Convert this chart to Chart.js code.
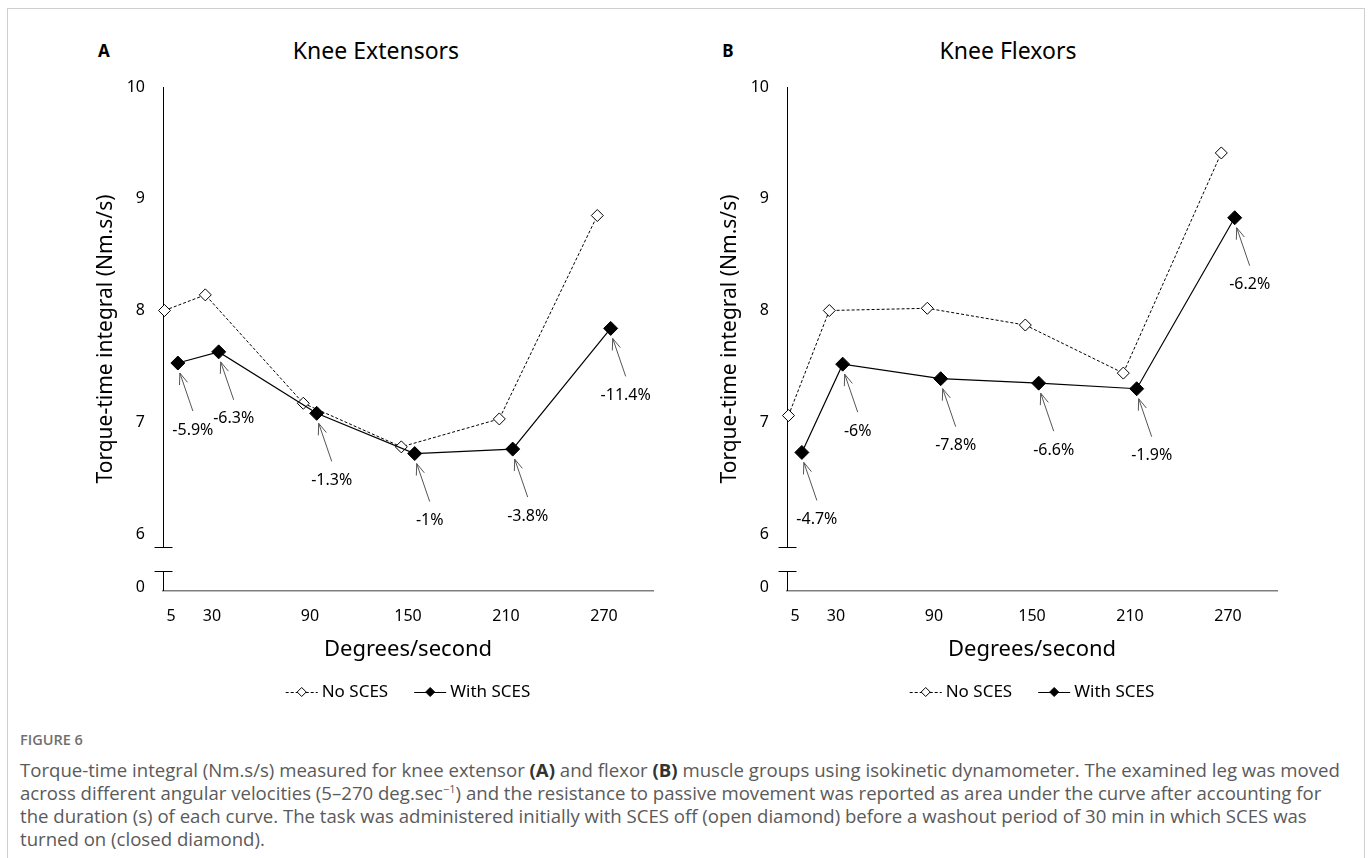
<!DOCTYPE html>
<html>
<head>
<meta charset="utf-8">
<script src="https://cdn.jsdelivr.net/npm/chart.js@4.4.1/dist/chart.umd.min.js"></script>
<style>
  html, body { margin: 0; padding: 0; background: #fff; }
  body { width: 1372px; height: 858px; position: relative; overflow: hidden; font-family: 'Noto Sans', 'Open Sans', sans-serif; }
  .frame { position: absolute; left: 7px; top: 8px; width: 1356px; height: 900px; border: 1px solid #cfcfcf; }
  .panel { position: absolute; top: 0; width: 680px; height: 720px; }
  #panelA { left: 0; }
  #panelB { left: 624px; }
  .letter { position: absolute; top: 50px; font-size: 17px; font-weight: bold; color: #000; transform: translate(-50%, -50%); }
  .ptitle { position: absolute; top: 50px; font-size: 23px; color: #000; transform: translate(-50%, -50%); white-space: nowrap; }
  .figlabel { position: absolute; left: 20px; top: 730px; font-family: 'Open Sans', sans-serif; font-size: 14.5px; font-weight: 600; color: #707070; }
  .caption { position: absolute; left: 20px; top: 758px; font-family: 'Open Sans', sans-serif; font-size: 18.6px; line-height: 23px; color: #5a5a5a; white-space: nowrap; }
  .caption b { color: #333; }
  .caption sup { font-size: 11px; line-height: 0; }
</style>
</head>
<body>
<div class="frame"></div>

<div class="letter" style="left:104px">A</div>
<div class="ptitle" style="left:376px">Knee Extensors</div>
<div class="letter" style="left:728px">B</div>
<div class="ptitle" style="left:1008px">Knee Flexors</div>

<div class="panel" id="panelA"><canvas id="chartA" width="680" height="720"></canvas></div>
<div class="panel" id="panelB"><canvas id="chartB" width="680" height="720"></canvas></div>

<div class="figlabel">FIGURE 6</div>
<div class="caption">
Torque-time integral (Nm.s/s) measured for knee extensor <b>(A)</b> and flexor <b>(B)</b> muscle groups using isokinetic dynamometer. The examined leg was moved<br>
across different angular velocities (5–270 deg.sec<sup>−1</sup>) and the resistance to passive movement was reported as area under the curve after accounting for<br>
the duration (s) of each curve. The task was administered initially with SCES off (open diamond) before a washout period of 30 min in which SCES was<br>
turned on (closed diamond).
</div>

<script>
// Angular velocities tested (deg/s) and their axis labels
const degrees = [5, 30, 90, 150, 210, 270];
const xTickLabels = ['5', '30', '90', '150', '210', '270'];

// Knee extensors: torque-time integral (Nm.s/s)
const extNoSces = [8.00, 8.14, 7.17, 6.78, 7.03, 8.85];
const extWithSces = [7.53, 7.63, 7.08, 6.72, 6.76, 7.84];
const extChange = ['-5.9%', '-6.3%', '-1.3%', '-1%', '-3.8%', '-11.4%'];

// Knee flexors: torque-time integral (Nm.s/s)
const flxNoSces = [7.06, 8.00, 8.02, 7.87, 7.44, 9.41];
const flxWithSces = [6.73, 7.52, 7.39, 7.35, 7.30, 8.83];
const flxChange = ['-4.7%', '-6%', '-7.8%', '-6.6%', '-1.9%', '-6.2%'];

// Axis ticks: upper segment of the broken y axis, and its zero stub
const yTicksUpper = [6, 7, 8, 9, 10];
const yTicksLower = [0];

const seriesNames = ['No SCES', 'With SCES'];
const xTitle = 'Degrees/second';
const yTitle = 'Torque-time integral (Nm.s/s)';

// the two conditions are drawn side by side around each velocity
const DODGE = 4.1;
const FONT = "'Noto Sans', 'Open Sans', sans-serif";

function toPoints(values, shift) {
  return degrees.map((d, i) => ({ x: d + shift, y: values[i] }));
}

// Broken y axis: closing tick on the upper segment, short stub down to zero
const brokenAxis = {
  id: 'brokenAxis',
  afterDraw(chart) {
    const { ctx, chartArea } = chart;
    const up = chart.scales.y;
    const lo = chart.scales.yLow;
    const x = Math.round(chartArea.left) + 0.5;
    const half = 9;
    const yBreak = Math.round(up.bottom) + 0.5;
    const yResume = Math.round(lo.bottom - 20) + 0.5;
    ctx.save();
    ctx.strokeStyle = '#000';
    ctx.lineWidth = 1;
    ctx.beginPath();
    ctx.moveTo(x - half, yBreak); ctx.lineTo(x + half, yBreak);
    ctx.moveTo(x - half, yResume); ctx.lineTo(x + half, yResume);
    ctx.moveTo(x, yResume); ctx.lineTo(x, lo.bottom);
    ctx.stroke();
    ctx.restore();
  }
};

// Y axis title centred on the whole (broken) axis
const axisTitle = {
  id: 'axisTitle',
  afterDraw(chart) {
    const { ctx, chartArea } = chart;
    ctx.save();
    ctx.translate(106, (chartArea.top + chartArea.bottom) / 2);
    ctx.rotate(-Math.PI / 2);
    ctx.font = '21px ' + FONT;
    ctx.fillStyle = '#000';
    ctx.textAlign = 'center';
    ctx.textBaseline = 'middle';
    ctx.fillText(yTitle, 0, 0);
    ctx.restore();
  }
};

// Percent change callouts under each With SCES marker
function drawArrow(ctx, x1, y1, x2, y2) {
  const a = Math.atan2(y2 - y1, x2 - x1);
  const len = 12, spread = 0.36;
  ctx.beginPath();
  ctx.moveTo(x1, y1); ctx.lineTo(x2, y2);
  ctx.moveTo(x2 - len * Math.cos(a - spread), y2 - len * Math.sin(a - spread));
  ctx.lineTo(x2, y2);
  ctx.lineTo(x2 - len * Math.cos(a + spread), y2 - len * Math.sin(a + spread));
  ctx.stroke();
}

const callouts = {
  id: 'callouts',
  afterDatasetsDraw(chart, args, opts) {
    const { ctx } = chart;
    const meta = chart.getDatasetMeta(1);
    ctx.save();
    ctx.strokeStyle = '#555';
    ctx.lineWidth = 1;
    ctx.fillStyle = '#000';
    ctx.font = '16px ' + FONT;
    ctx.textAlign = 'center';
    ctx.textBaseline = 'middle';
    meta.data.forEach((pt, i) => {
      drawArrow(ctx, pt.x + 15, pt.y + 48, pt.x + 2, pt.y + 10);
      ctx.fillText(opts.labels[i], pt.x + 15, pt.y + 67);
    });
    ctx.restore();
  }
};

// Legend with a line sample and marker for each series
const lineLegend = {
  id: 'lineLegend',
  afterDraw(chart) {
    const { ctx, chartArea } = chart;
    const ds = chart.data.datasets;
    const y = 692;
    const sample = 32, gapText = 4, gapItem = 26;
    ctx.save();
    ctx.font = '17px ' + FONT;
    const widths = ds.map(d => sample + gapText + ctx.measureText(d.label).width);
    const total = widths.reduce((a, b) => a + b, 0) + gapItem * (ds.length - 1);
    let x = (chartArea.left + chartArea.right) / 2 - total / 2;
    ds.forEach((d, i) => {
      ctx.strokeStyle = d.borderColor;
      ctx.lineWidth = d.borderWidth;
      ctx.setLineDash(d.borderDash || []);
      ctx.beginPath();
      ctx.moveTo(x, y + 0.5); ctx.lineTo(x + sample, y + 0.5);
      ctx.stroke();
      ctx.setLineDash([]);
      const cx = x + sample / 2, r = 4.5;
      ctx.beginPath();
      ctx.moveTo(cx - r, y); ctx.lineTo(cx, y - r); ctx.lineTo(cx + r, y); ctx.lineTo(cx, y + r); ctx.closePath();
      ctx.fillStyle = d.pointBackgroundColor;
      ctx.fill();
      ctx.lineWidth = 1;
      ctx.strokeStyle = d.pointBorderColor;
      ctx.stroke();
      ctx.fillStyle = '#000';
      ctx.textAlign = 'left';
      ctx.textBaseline = 'middle';
      ctx.fillText(d.label, x + sample + gapText, y);
      x += widths[i] + gapItem;
    });
    ctx.restore();
  }
};

function makeChart(id, noVals, withVals, change) {
  return new Chart(document.getElementById(id), {
    type: 'line',
    data: {
      datasets: [
        {
          label: seriesNames[0],
          data: toPoints(noVals, -DODGE),
          yAxisID: 'y',
          order: 2,
          borderColor: '#000',
          borderWidth: 1,
          borderDash: [3, 2],
          pointStyle: 'rectRot',
          pointRadius: 6,
          pointBackgroundColor: '#fff',
          pointBorderColor: '#000',
          pointBorderWidth: 1,
          tension: 0,
          clip: false
        },
        {
          label: seriesNames[1],
          data: toPoints(withVals, DODGE),
          yAxisID: 'y',
          order: 1,
          borderColor: '#000',
          borderWidth: 1.2,
          pointStyle: 'rectRot',
          pointRadius: 7,
          pointBackgroundColor: '#000',
          pointBorderColor: '#000',
          pointBorderWidth: 1,
          tension: 0,
          clip: false
        }
      ]
    },
    options: {
      responsive: false,
      animation: false,
      events: [],
      layout: { padding: { left: 0, right: 27, top: 87, bottom: 0 } },
      plugins: {
        legend: { display: false },
        tooltip: { enabled: false },
        callouts: { labels: change }
      },
      scales: {
        x: {
          type: 'linear',
          min: 0,
          max: 300,
          grid: { display: false, drawTicks: false },
          border: { display: true, color: '#7f7f7f', width: 1.5 },
          afterBuildTicks: s => { s.ticks = degrees.map(v => ({ value: v })); },
          afterFit: s => { s.height = 129; },
          ticks: {
            autoSkip: false,
            maxRotation: 0,
            padding: 16,
            color: '#000',
            font: { family: FONT, size: 16 },
            callback: (v) => xTickLabels[degrees.indexOf(v)]
          },
          title: {
            display: true,
            text: xTitle,
            color: '#000',
            font: { family: FONT, size: 22 },
            padding: { top: 0, bottom: 57 }
          }
        },
        // zero stub listed first so the stack places it below the main segment
        yLow: {
          type: 'linear',
          position: 'left',
          stack: 'torque',
          stackWeight: 44,
          min: 0,
          max: 1,
          grid: { display: false, drawTicks: false },
          border: { display: false },
          afterBuildTicks: s => { s.ticks = yTicksLower.map(v => ({ value: v })); },
          afterFit: s => { s.width = 163; },
          ticks: { padding: 18, labelOffset: -4, color: '#000', font: { family: FONT, size: 16 } }
        },
        y: {
          type: 'linear',
          position: 'left',
          stack: 'torque',
          stackWeight: 460,
          min: 5.884,
          max: 10,
          grid: { display: false, drawTicks: false },
          border: { display: true, color: '#000', width: 1 },
          afterBuildTicks: s => { s.ticks = yTicksUpper.map(v => ({ value: v })); },
          afterFit: s => { s.width = 163; },
          ticks: { padding: 18, color: '#000', font: { family: FONT, size: 16 } }
        }
      }
    },
    plugins: [brokenAxis, axisTitle, callouts, lineLegend]
  });
}

makeChart('chartA', extNoSces, extWithSces, extChange);
makeChart('chartB', flxNoSces, flxWithSces, flxChange);
</script>
</body>
</html>
